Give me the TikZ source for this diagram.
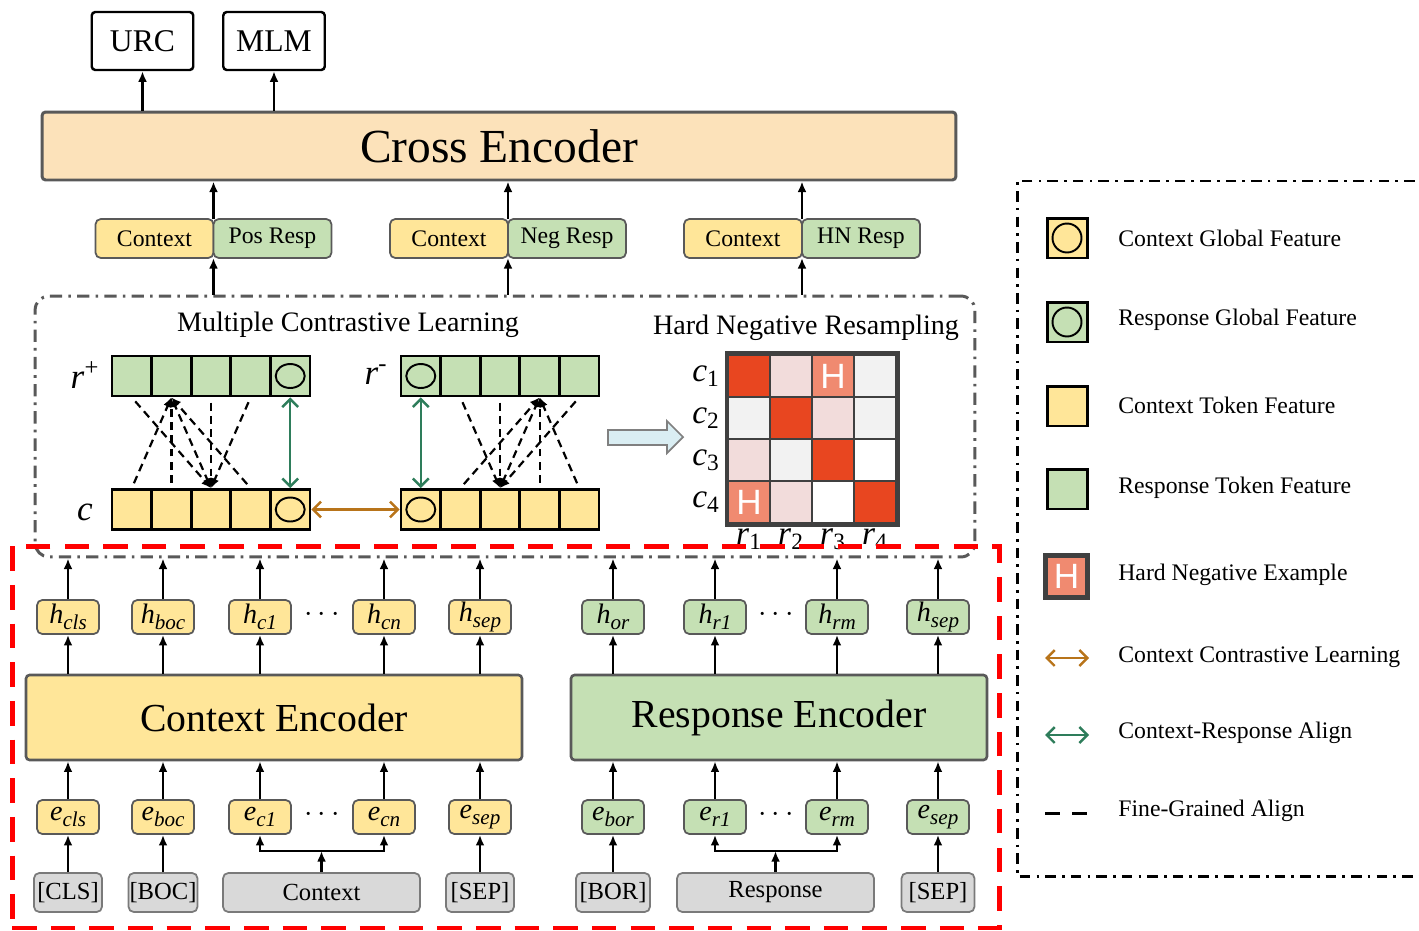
\documentclass[tikz,border=0pt]{standalone}
\usepackage{fontspec}
\setmainfont{Liberation Serif}
\newfontfamily\sansH{Liberation Sans}
\usetikzlibrary{arrows.meta,positioning}

\definecolor{yel}{HTML}{FFE699}
\definecolor{grn}{HTML}{C5E0B4}
\definecolor{peach}{HTML}{FCE2BA}
\definecolor{tokgray}{HTML}{D9D9D9}
\definecolor{rimgray}{HTML}{595959}
\definecolor{mdark}{HTML}{404040}
\definecolor{mred}{HTML}{E84620}
\definecolor{mpink}{HTML}{F2DCDB}
\definecolor{msalmon}{HTML}{F08A70}
\definecolor{mlight}{HTML}{F2F2F2}
\definecolor{alignG}{HTML}{2E7D5B}
\definecolor{contraO}{HTML}{B8741A}
\definecolor{blockblue}{HTML}{DAEEF3}

\newcommand{\fs}[1]{\fontsize{#1}{#1}\selectfont}
\newcommand{\tok}[2]{\textit{#1}\raisebox{-0.45ex}{\fs{12}\itshape #2}}

\tikzset{
  arr/.style={-{Latex[length=6pt,width=5pt]}, line width=1.35pt},
  outbox/.style={draw, line width=1.4pt, rounded corners=2pt, fill=white, minimum width=2.03cm, minimum height=1.16cm, font=\fs{18}},
  pairbox/.style={draw=rimgray, line width=1pt, rounded corners=3pt, minimum width=2.36cm, minimum height=0.78cm, inner sep=0pt, outer sep=0pt, font=\fs{13.5}},
  encbox/.style={draw=rimgray, line width=1.5pt, rounded corners=2pt, minimum height=1.7cm, font=\fs{22.6}},
  featbox/.style={draw=rimgray, line width=1pt, rounded corners=3pt, minimum width=1.24cm, minimum height=0.68cm, inner sep=0pt, font=\fs{16}},
  tokbox/.style={draw=rimgray!80, fill=tokgray, line width=1pt, rounded corners=3pt, minimum height=0.78cm, inner sep=0pt, font=\fs{14}},
  cell/.style={draw, line width=1.6pt, minimum width=0.792cm, minimum height=0.8cm, inner sep=0pt},
  ring/.style={line width=1.1pt},
  fine/.style={dash pattern=on 4.5pt off 3pt, line width=1.25pt, shorten <=3pt},
  finearr/.style={fine, -{Latex[length=5.5pt,width=5pt]}},
  galign/.style={draw=alignG, line width=1.4pt, {Straight Barb[length=4.5pt,width=9pt]}-{Straight Barb[length=4.5pt,width=9pt]}},
  ocontra/.style={draw=contraO, line width=1.4pt, {Straight Barb[length=4.5pt,width=9pt]}-{Straight Barb[length=4.5pt,width=9pt]}},
  mcell/.style={draw=mdark, line width=1.6pt, minimum size=0.84cm, inner sep=0pt},
  hmark/.style={text=white, font=\sansH\fs{20}, inner sep=0pt},
  legsq/.style={draw, line width=1.7pt, minimum size=0.8cm, inner sep=0pt},
  legtxt/.style={anchor=west, font=\fs{13.5}, inner sep=0pt},
  mathlbl/.style={font=\fs{20}, inner sep=0pt}
}

\begin{document}
\begin{tikzpicture}[x=0.02cm, y=-0.02cm]
\useasboundingbox (0,0) rectangle (1419,930);

\node[outbox] (urc) at (142.5,41) {URC};
\node[outbox] (mlm) at (274,41) {MLM};
\node[draw=rimgray, fill=peach, line width=1.7pt, rounded corners=2pt, minimum width=18.28cm, minimum height=1.36cm, font=\fs{27}] (cross) at (499,146) {Cross Encoder};
\draw[arr] (urc.south |- cross.north) -- (urc.south);
\draw[arr] (mlm.south |- cross.north) -- (mlm.south);

\node[pairbox, fill=yel] (ctxA) at (154.5,238.5) {Context};
\node[pairbox, fill=grn, right=0pt of ctxA] (posA) {Pos Resp};
\node[pairbox, fill=yel] (ctxB) at (449,238.5) {Context};
\node[pairbox, fill=grn, right=0pt of ctxB] (negB) {Neg Resp};
\node[pairbox, fill=yel] (ctxC) at (743,238.5) {Context};
\node[pairbox, fill=grn, right=0pt of ctxC] (hnC) {HN Resp};
\foreach \p in {ctxA,ctxB,ctxC}
  \draw[arr] (\p.north east) -- (\p.north east |- cross.south);

\node[draw=rimgray, line width=1.7pt, rounded corners=8pt, dash pattern=on 7pt off 3.5pt on 1.5pt off 3.5pt, minimum width=18.8cm, minimum height=5.22cm] (mcl) at (505,426.5) {};
\foreach \p in {ctxA,ctxB,ctxC}
  \draw[arr] (mcl.north -| \p.south east) -- (\p.south east);

\node[font=\fs{16}] (mcltitle) at (348,325) {Multiple Contrastive Learning};
\node[font=\fs{16}] (hnrtitle) at (806,328) {Hard Negative Resampling};

\foreach \i in {1,...,5} {
  \node[cell, fill=grn] (rp\i) at ({112+39.6*(\i-0.5)},376) {};
  \node[cell, fill=yel] (ca\i) at ({112+39.6*(\i-0.5)},509.5) {};
  \node[cell, fill=grn] (rn\i) at ({401+39.6*(\i-0.5)},376) {};
  \node[cell, fill=yel] (cb\i) at ({401+39.6*(\i-0.5)},509.5) {};
}
\foreach \c in {rp5,ca5,rn1,cb1}
  \draw[ring] (\c) ellipse[x radius=0.29cm, y radius=0.24cm];

\node[mathlbl] (lrp) at (85,375) {\textit{r}\textsuperscript{+}};
\node[mathlbl] (lca) at (85,512) {\textit{c}};
\node[mathlbl] (lrn) at (376,375) {\textit{r}\textsuperscript{-}};

\foreach \a in {1,2,4}
  \draw[finearr] (ca\a.north) -- (rp2.south);
\foreach \a in {1,2,3,4}
  \draw[finearr] (rp\a.south) -- (ca3.north);
\foreach \a in {2,4,5}
  \draw[finearr] (cb\a.north) -- (rn4.south);
\foreach \a in {2,3,4,5}
  \draw[finearr] (rn\a.south) -- (cb3.north);

\draw[galign] (rp5.south) -- (ca5.north);
\draw[galign] (rn1.south) -- (cb1.north);
\draw[ocontra] (ca5.east) -- (cb1.west);

\draw[draw=gray, fill=blockblue, line width=1pt] (608,430) -- (667,430) -- (667,421) -- (683,437) -- (667,453) -- (667,445) -- (608,445) -- cycle;

\foreach \i/\j/\col in {1/1/mred,1/2/mpink,1/3/msalmon,1/4/mlight,
                        2/1/mlight,2/2/mred,2/3/mpink,2/4/mlight,
                        3/1/mpink,3/2/mlight,3/3/mred,3/4/white,
                        4/1/msalmon,4/2/mpink,4/3/white,4/4/mred}
  \node[mcell, fill=\col] (m\i\j) at ({728+42*(\j-0.5)},{355+42*(\i-0.5)}) {};
\draw[draw=mdark, line width=2.4pt] (m11.north west) rectangle (m44.south east);
\node[hmark] (h13) at (m13) {H};
\node[hmark] (h41) at (m41) {H};
\foreach \i in {1,...,4} {
  \node[mathlbl, anchor=east, font=\fs{19}] (lc\i) at (720,{355+42*(\i-0.5)}) {\textit{c}\textsubscript{\i}};
  \node[mathlbl, font=\fs{19}] (lr\i) at ({728+42*(\i-0.5)},539) {\textit{r}\textsubscript{\i}};
}

\node[encbox, fill=yel, minimum width=9.92cm] (cenc) at (274,717.5) {Context Encoder};
\node[encbox, fill=grn, minimum width=8.32cm] (renc) at (779,717.5) {Response Encoder};

\foreach \n/\x/\hs/\es/\col/\enc in {cls/68/cls/cls/yel/cenc, boc/163/boc/boc/yel/cenc, ca/260/c1/c1/yel/cenc, cn/384/cn/cn/yel/cenc, sepc/480/sep/sep/yel/cenc,
                                  or/613/or/bor/grn/renc, ra/715/r1/r1/grn/renc, rm/837/rm/rm/grn/renc, sepr/938/sep/sep/grn/renc} {
  \node[featbox, fill=\col] (h\n) at (\x,617) {\tok{h}{\hs}};
  \node[featbox, fill=\col] (e\n) at (\x,817) {\tok{e}{\es}};
  \draw[arr] (h\n.north) -- (h\n.north |- mcl.south);
  \draw[arr] (h\n.south |- \enc.north) -- (h\n.south);
  \draw[arr] (e\n.north) -- (e\n.north |- \enc.south);
}
\node[font=\fs{16}] (dha) at (322,615) {$\cdots$};
\node[font=\fs{16}] (dea) at (322,815) {$\cdots$};
\node[font=\fs{16}] (dhb) at (776,615) {$\cdots$};
\node[font=\fs{16}] (deb) at (776,815) {$\cdots$};

\node[tokbox, minimum width=1.36cm] (tcls) at (68,892.5) {[CLS]};
\node[tokbox, minimum width=1.38cm] (tboc) at (163,892.5) {[BOC]};
\node[tokbox, minimum width=3.94cm] (tctx) at (321.5,892.5) {Context};
\node[tokbox, minimum width=1.36cm] (tsepc) at (480,892.5) {[SEP]};
\node[tokbox, minimum width=1.48cm] (tbor) at (613,892.5) {[BOR]};
\node[tokbox, minimum width=3.94cm] (tresp) at (775.5,892.5) {Response};
\node[tokbox, minimum width=1.46cm] (tsepr) at (938,892.5) {[SEP]};
\draw[arr] (tcls.north) -- (ecls.south);
\draw[arr] (tboc.north) -- (eboc.south);
\draw[arr] (tsepc.north) -- (esepc.south);
\draw[arr] (tbor.north) -- (eor.south);
\draw[arr] (tsepr.north) -- (esepr.south);
\coordinate (cj) at (321.5,851);
\coordinate (rj) at (775.5,851);
\draw[arr] (tctx.north) -- (cj);
\draw[arr] (cj) -| (eca.south);
\draw[arr] (cj) -| (ecn.south);
\draw[arr] (tresp.north) -- (rj);
\draw[arr] (rj) -| (era.south);
\draw[arr] (rj) -| (erm.south);

\node[draw=red, line width=2.8pt, dash pattern=on 14pt off 8pt, minimum width=19.76cm, minimum height=7.64cm] (dual) at (506,737) {};

\draw[line width=1.7pt, dash pattern=on 6pt off 3.5pt on 1.5pt off 3.5pt] (1440,181) -- (1017,181) -- (1017,876) -- (1440,876);
\node[legsq, fill=yel] (lg1) at (1067,238) {};
\draw[ring] (lg1) circle[radius=0.29cm];
\node[legtxt] (lt1) at (1118,238) {Context Global Feature};
\node[legsq, fill=grn] (lg2) at (1067,322) {};
\draw[ring] (lg2) circle[radius=0.29cm];
\node[legtxt] (lt2) at (1118,320) {Response Global Feature};
\node[legsq, fill=yel] (lg3) at (1067,406) {};
\node[legtxt] (lt3) at (1118,405) {Context Token Feature};
\node[legsq, fill=grn] (lg4) at (1067,489) {};
\node[legtxt] (lt4) at (1118,488) {Response Token Feature};
\node[legsq, fill=msalmon, draw=mdark, line width=2.3pt, minimum size=0.84cm, text=white, font=\sansH\fs{20}] (lg5) at (1066.5,576.5) {H};
\node[legtxt] (lt5) at (1118,575) {Hard Negative Example};
\coordinate (oa) at (1045,658);
\coordinate (ob) at (1089,658);
\draw[ocontra] (oa) -- (ob);
\node[legtxt] (lt6) at (1118,657) {Context Contrastive Learning};
\coordinate (ga) at (1045,735);
\coordinate (gb) at (1089,735);
\draw[galign] (ga) -- (gb);
\node[legtxt] (lt7) at (1118,733) {Context-Response Align};
\coordinate (fa) at (1045,813);
\coordinate (fb) at (1089,813);
\draw[line width=1.7pt, dash pattern=on 8.5pt off 7pt] (fa) -- (fb);
\node[legtxt] (lt8) at (1118,811) {Fine-Grained Align};
\end{tikzpicture}
\end{document}
